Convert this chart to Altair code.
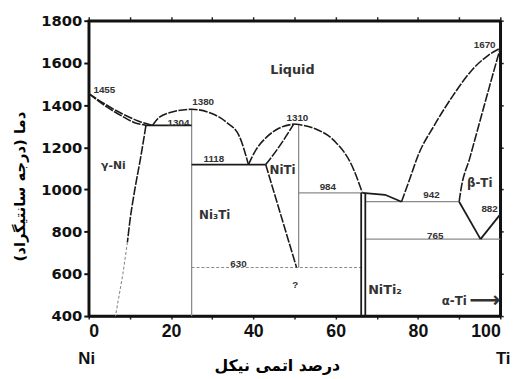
import altair as alt
import pandas as pd

# ---- phase boundary curves (x = axis value, T = deg C) ----
liq_ni = [(0, 1455), (4, 1404), (8, 1360), (12, 1325), (15.5, 1304)]
sol_ni = [(0, 1455), (4, 1396), (8, 1349), (11, 1318), (13.9, 1304)]
solvus_ni_hi = [(13.9, 1304), (12.6, 1150), (11.2, 1000), (10.0, 850), (9.4, 750)]
solvus_ni_lo = [(9.4, 750), (8.3, 600), (6.5, 400)]
eut_1304 = [(13.9, 1304), (25, 1304)]
ni3ti_dome = [(15.5, 1304), (17, 1340), (20, 1366), (25, 1380), (29.4, 1364),
              (33.5, 1318), (36.6, 1252), (38.8, 1118)]
ni3ti_vert = [(25, 400), (25, 1380)]
eut_1118 = [(25, 1118), (43, 1118)]
niti_liq_left = [(38.8, 1118), (40.7, 1190), (43.1, 1246), (46.2, 1290), (49.8, 1310)]
niti_sol_left = [(43, 1118), (45.5, 1182), (47.8, 1248), (49.8, 1310)]
niti_v_left = [(43, 1118), (50.5, 630)]
niti_vert = [(51, 630), (51, 1310)]
niti_liq_right = [(49.8, 1310), (55, 1288), (59.8, 1228), (63.9, 1115), (66.5, 984)]
eut_984 = [(51, 984), (66.5, 984)]
line_630 = [(25, 630), (66.2, 630)]
niti2_a = [(66.2, 400), (66.2, 984)]
niti2_b = [(67.2, 400), (67.2, 984)]
liq_niti2 = [(66.5, 984), (72, 975), (76, 942)]
eut_942 = [(67.2, 942), (90, 942)]
liq_ti = [(76, 942), (78, 1050), (80, 1160), (84, 1305), (88.5, 1445), (93.3, 1570),
          (97, 1635), (100, 1670)]
sol_ti = [(90, 942), (90.4, 995), (92.6, 1150), (95, 1320), (97.4, 1490), (100, 1670)]
ba_left = [(90, 942), (95.2, 765)]
ba_right = [(95.2, 765), (100, 882)]
eut_765 = [(67.2, 765), (100, 765)]

curves = {
    "dash": [liq_ni, sol_ni, solvus_ni_hi, ni3ti_dome, niti_liq_left, niti_sol_left,
             niti_liq_right, liq_ti, sol_ti],
    "straightdash": [niti_v_left],
    "solid": [eut_1304, eut_1118, niti2_a, niti2_b, liq_niti2, ba_left, ba_right],
    "thin": [ni3ti_vert, niti_vert, eut_984, eut_942, eut_765],
    "dot": [solvus_ni_lo, line_630],
}

rows = []
seg = 0
for style, lst in curves.items():
    for c in lst:
        for i, (x, t) in enumerate(c):
            rows.append({"seg": seg, "ord": i, "x": x, "T": t, "style": style})
        seg += 1
lines_df = pd.DataFrame(rows)

# ---- text annotations ----
lab_text = ["1455", "1380", "1304", "1118", "1310", "984", "630", "?", "942", "765",
            "882", "1670"]
lab_x = [3.8, 27.8, 21.8, 30.4, 50.7, 58.1, 36.4, 50.2, 83.3, 84.2, 97.4, 96.2]
lab_T = [1473, 1413, 1315, 1142, 1338, 1011, 647, 545, 974, 778, 909, 1683]

phase_text = ["Liquid", "NiTi", "γ-Ni", "Ni₃Ti", "NiTi₂", "β-Ti", "α-Ti", "⟶"]
phase_x = [49.5, 47.1, 6.0, 30.6, 72.0, 95.0, 88.8, 96.2]
phase_T = [1567, 1091, 1109, 881, 521, 1030, 470, 474]
phase_size = [13, 12, 11, 12, 13, 12, 12, 22]

end_text = ["Ni", "Ti"]
end_x = [-0.5, 100.7]
end_T = [400, 400]

labels_df = pd.DataFrame({"t": lab_text, "x": lab_x, "T": lab_T})
phases_df = pd.DataFrame({"t": phase_text, "x": phase_x, "T": phase_T, "s": phase_size})
ends_df = pd.DataFrame({"t": end_text, "x": end_x, "T": end_T})

xs = alt.Scale(domain=[0, 100], nice=False, zero=False)
ys = alt.Scale(domain=[400, 1800], nice=False, zero=False)

x_bottom = alt.Axis(values=list(range(0, 101, 10)), format="d",
                    labelExpr="datum.value % 20 == 0 ? datum.label : ''",
                    title="درصد اتمی نیکل", titleX=191, titleY=50,
                    titleAlign="center", titleBaseline="middle",
                    titleFont="DejaVu Sans", titleFontSize=16, titleFontWeight="bold",
                    labelFont="Liberation Sans", labelFontSize=18, labelFontWeight="bold",
                    labelColor="#111", labelPadding=4, tickSize=3, tickWidth=1.5,
                    tickColor="#222", domainColor="#111", domainWidth=2.5, grid=False)
y_left = alt.Axis(values=list(range(400, 1801, 200)), format="d",
                  title="دما (درجه سانتیگراد)", titleX=-70, titleY=168,
                  titleAngle=270, titleAlign="center", titleBaseline="middle",
                  titleFont="DejaVu Sans", titleFontSize=15, titleFontWeight="bold",
                  labelFont="DejaVu Sans", labelFontSize=15, labelFontWeight="bold",
                  labelColor="#111", labelPadding=2, tickSize=5, tickWidth=2,
                  tickColor="#111", domainColor="#111", domainWidth=2.5, grid=False)
x_top = alt.Axis(orient="top", values=list(range(0, 101, 10)), labels=False, title=None,
                 tickSize=4, tickWidth=1.5, tickColor="#222", domainColor="#111",
                 domainWidth=2.5, grid=False)
y_right = alt.Axis(orient="right", values=list(range(400, 1801, 200)), labels=False,
                   title=None, tickSize=3, tickWidth=1.5, tickColor="#222",
                   domainColor="#111", domainWidth=2.5, grid=False)

base = alt.Chart(lines_df)


def line_layer(style, **mk):
    return base.transform_filter(alt.datum.style == style).mark_line(**mk).encode(
        x=alt.X("x:Q", scale=xs, axis=None),
        y=alt.Y("T:Q", scale=ys, axis=None),
        detail="seg:N",
        order="ord:Q",
    )


dash = line_layer("dash", color="#1a1a1a", strokeWidth=1.6, strokeDash=[9, 1.5],
                  interpolate="monotone")
sdash = line_layer("straightdash", color="#1a1a1a", strokeWidth=1.6, strokeDash=[9, 1.5])
solid = line_layer("solid", color="#1a1a1a", strokeWidth=1.8)
thin = line_layer("thin", color="#8a8a8a", strokeWidth=1.3)
dot = line_layer("dot", color="#8a8a8a", strokeWidth=1.1, strokeDash=[3, 2])

axes_main = alt.Chart(lines_df).mark_point(opacity=0).encode(
    x=alt.X("x:Q", scale=xs, axis=x_bottom),
    y=alt.Y("T:Q", scale=ys, axis=y_left),
)
axes_other = alt.Chart(lines_df).mark_point(opacity=0).encode(
    x=alt.X("x:Q", scale=xs, axis=x_top),
    y=alt.Y("T:Q", scale=ys, axis=y_right),
)

nums = alt.Chart(labels_df).mark_text(font="Liberation Sans", fontSize=10,
                                      fontWeight="bold", color="#333").encode(
    x=alt.X("x:Q", scale=xs, axis=None), y=alt.Y("T:Q", scale=ys, axis=None), text="t:N")
phases = alt.Chart(phases_df).mark_text(font="DejaVu Sans", fontWeight="bold",
                                        color="#333").encode(
    x=alt.X("x:Q", scale=xs, axis=None), y=alt.Y("T:Q", scale=ys, axis=None), text="t:N",
    size=alt.Size("s:Q", scale=None, legend=None))
ends = alt.Chart(ends_df).mark_text(font="Liberation Sans", fontWeight="bold",
                                    fontSize=17, color="#111", dy=44).encode(
    x=alt.X("x:Q", scale=xs, axis=None), y=alt.Y("T:Q", scale=ys, axis=None), text="t:N")

chart = alt.layer(axes_main, axes_other, thin, dot, solid, dash, sdash, nums, phases, ends
                  ).resolve_axis(x="independent", y="independent").properties(
    width=418, height=300,
    autosize=alt.AutoSizeParams(type="none"),
    padding={"left": 82, "top": 10, "right": 19, "bottom": 61},
).configure_view(stroke="#111", strokeWidth=2.5)

chart.save("out.html", embed_options={"renderer": "svg", "actions": False})
